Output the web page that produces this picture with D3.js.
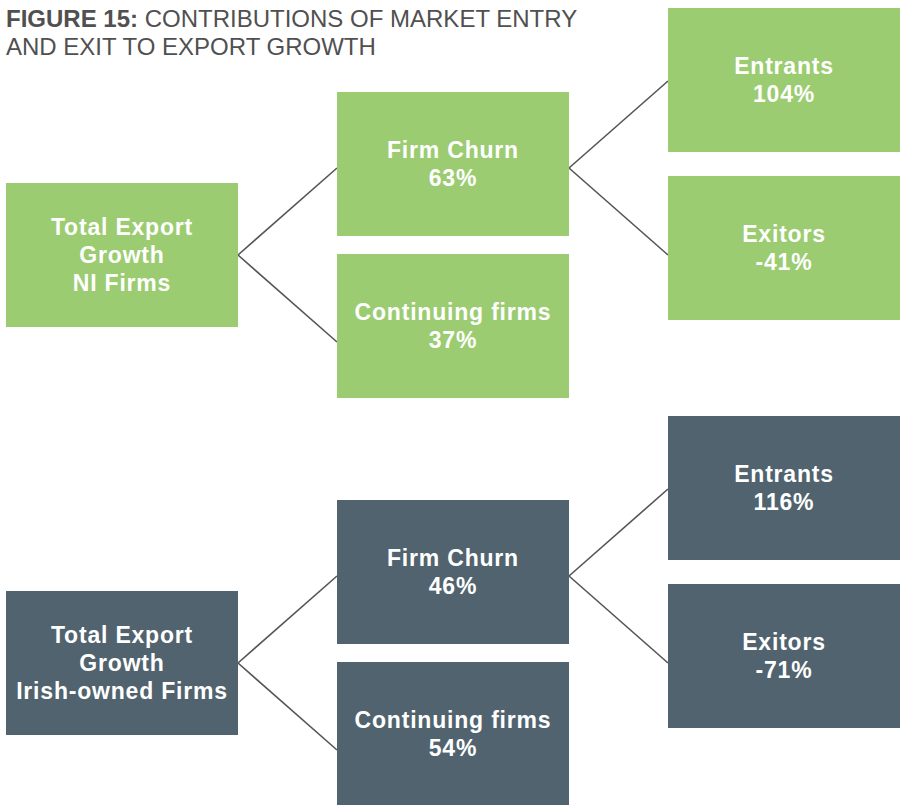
<!DOCTYPE html>
<html>
<head>
<meta charset="utf-8">
<script src="https://cdn.jsdelivr.net/npm/d3@7"></script>
<style>
  body { margin: 0; background: #fff; }
  svg { display: block; font-family: "Liberation Sans", Arial, sans-serif; }
</style>
</head>
<body>
<svg id="chart" width="901" height="805"></svg>
<script>
// data
const titleBold = "FIGURE 15:";
const titleLines = ["CONTRIBUTIONS OF MARKET ENTRY", "AND EXIT TO EXPORT GROWTH"];
const groups = ["NI Firms", "Irish-owned Firms"];
const groupColors = ["#9bcc71", "#50636e"];
const rootLabel = ["Total Export", "Growth"];
const churnLabel = "Firm Churn";
const continuingLabel = "Continuing firms";
const entrantsLabel = "Entrants";
const exitorsLabel = "Exitors";
const churnValues = [63, 46];
const continuingValues = [37, 54];
const entrantsValues = [104, 116];
const exitorsValues = [-41, -71];

const svg = d3.select("#chart");
const boxW = 232, boxH = 144, lineH = 28, spread = 87;

// level -> x
const xScale = d3.scalePoint().domain([0, 1, 2]).range([6, 668]);
// group -> vertical offset
const groupScale = d3.scalePoint().domain(groups).range([0, 408]);
// node top positions inside one tree
const roleY = d3.scaleOrdinal()
    .domain(["root", "churn", "continuing", "entrants", "exitors"])
    .range([183, 92, 254, 8, 176]);

// title
const title = svg.append("g").attr("fill", "#505050").style("font-size", "24px");
title.append("text")
    .attr("x", 6).attr("y", 27)
    .call(t => {
        t.append("tspan").attr("font-weight", "bold").text(titleBold + " ");
        t.append("tspan").text(titleLines[0]);
    });
title.append("text").attr("x", 6).attr("y", 55).text(titleLines[1]);

groups.forEach((g, i) => {
    const pct = v => `${v}%`;
    const tree = d3.hierarchy({
        role: "root", lines: [...rootLabel, g],
        children: [
            {role: "churn", lines: [churnLabel, pct(churnValues[i])], children: [
                {role: "entrants", lines: [entrantsLabel, pct(entrantsValues[i])]},
                {role: "exitors", lines: [exitorsLabel, pct(exitorsValues[i])]}
            ]},
            {role: "continuing", lines: [continuingLabel, pct(continuingValues[i])]}
        ]
    });

    const off = groupScale(g);
    const gTree = svg.append("g").attr("transform", `translate(0, ${off})`);

    // junction point: where links leave / arrive
    tree.each(d => {
        d.x = xScale(d.depth);
        d.y = roleY(d.data.role);
        if (!d.parent) d.jy = d.y + boxH / 2;
        else d.jy = d.parent.jy + (d.parent.children.indexOf(d) === 0 ? -spread : spread);
    });

    // links
    gTree.selectAll("line.link")
        .data(tree.links())
        .join("line")
        .attr("class", "link")
        .attr("x1", d => d.source.x + boxW)
        .attr("y1", d => d.source.jy)
        .attr("x2", d => d.target.x)
        .attr("y2", d => d.target.jy)
        .style("stroke", "#555555")
        .style("stroke-width", 1.6);

    const nodes = gTree.selectAll("g.node")
        .data(tree.descendants())
        .join("g")
        .attr("class", "node")
        .attr("transform", d => `translate(${d.x}, ${d.y})`);

    nodes.append("rect")
        .attr("width", boxW)
        .attr("height", boxH)
        .style("fill", groupColors[i]);

    nodes.append("text")
        .attr("text-anchor", "middle")
        .style("fill", "white")
        .style("font-weight", "bold")
        .style("font-size", "23px")
        .style("letter-spacing", "0.8px")
        .selectAll("tspan")
        .data(d => d.data.lines.map((l, k, arr) => ({l, k, n: arr.length})))
        .join("tspan")
        .attr("x", boxW / 2)
        .attr("y", d => boxH / 2 + (d.k - (d.n - 1) / 2) * lineH + 8)
        .text(d => d.l);
});
</script>
</body>
</html>
